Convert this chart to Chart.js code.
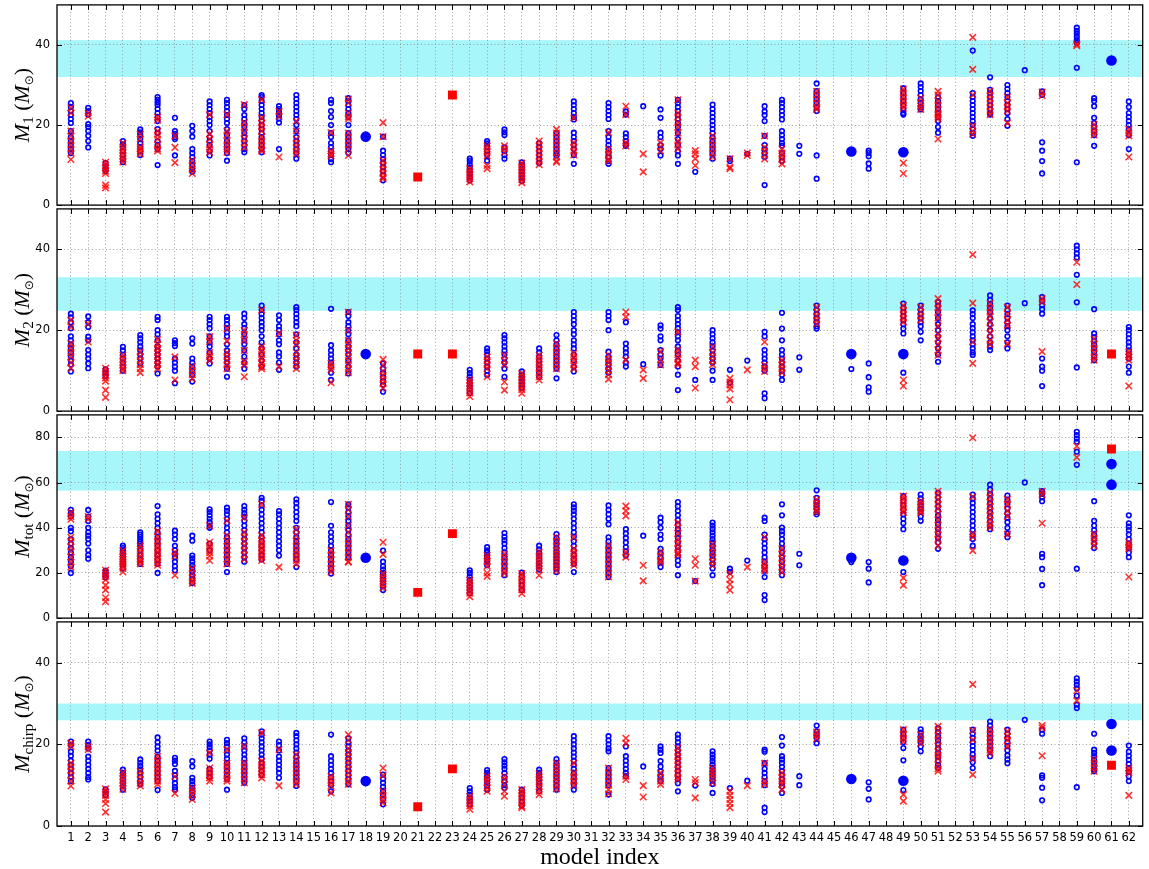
<!DOCTYPE html>
<html>
<head>
<meta charset="utf-8">
<script src="https://cdn.jsdelivr.net/npm/chart.js@4.4.1/dist/chart.umd.min.js"></script>
<style>
  body { margin: 0; background: #fff; width: 1149px; height: 869px; position: relative; overflow: hidden; }
  canvas { position: absolute; left: 0; }
</style>
</head>
<body>
<script>
// model index 1..62 (x ticks)
const modelIndex = Array.from({ length: 62 }, (_, i) => i + 1);

// ---- panel 1 : M1 ----
const m1Blue = [
  [25.5,24.5,23.5,22.5,21.5,20.5,18.5,17,16,15,14,13],[24.3,23.5,22.6,20.2,19.5,18.5,17.3,16,14.4],[10.5,9.8,9,8.5],
  [16,15.2,14.5,13.5,12.5,11.5,10.7],[18.9,18.2,17.5,16.5,15.5,14.5,13.5,12.5],[27,26.3,25.6,25,24,23,22,21,19,18,16,15,14,10],
  [21.8,18.5,17.8,17,16.5,12.4],[19.8,18.5,17.1,14,13,12,11,10,9,8.3],[25.9,25,24,23,22,21,20,18.5,17,16,15,13.5,12.4],
  [26.3,25.5,24.5,23.5,22.5,21.5,20.5,19,17.5,16,15,14,13,11.1],[25,24,22.5,21.5,20.5,19.5,18,17,16,15,14,13.2],
  [27.5,27,26,25,24,23,22,21,20,19,18,17,16,15,14,13.2],[24.7,24,23.2,22.4,21.6,20.6,14],
  [27.5,26.5,25.5,24.5,23.5,22.5,21.5,20,18.5,17,16,15,14,13,11.6],[],
  [26.3,25.5,23.5,22,20,18,17,15.5,14.5,13.5,12.5,11.5,10.7],[26.7,26,25,24,23,22,20,18,17,16,15,14,13],[],
  [17.1,13.6,12.5,11.5,10.5,9.5,8.5,7.5,6.2],[],[],[],[],
  [11.6,11,10.2,9.4,8.6,7.8,7,6.2],[16,15.4,14.5,13.5,12.5,11.1],[18.9,18.2,17.5,14.4,13.5,12.5,11.6],[10.7,10,9.2,8.4,7.6,6.8,6],
  [15.5,14.5,13.5,12.5,11.5,10.5],[18,17,16,15,14,13,12.4],[25.9,25,24,23,22,21.4,18.1,17,16,15,14,12.5,10.3],[],
  [25.5,24.5,23.5,22.5,21.5,18.5,17,16,15,14,13,12,11,10.3],[23.4,22.6,17.9,17,16,15.2,14.8],[24.7],[23.9,21.8,18.1,17,15,14,12.4],
  [26.3,25.5,24.5,23.5,22.5,21.5,20.5,19.5,18,16.5,15,13.5,12.4,10.3],[8.3],[25.1,24,23,22,21,20,19,18,17,16,15,14,13,11.6],
  [11.6,11],[12.8],[24.7,23.4,22.5,21,17.3,15,14,13,12,5],
  [26.3,25.5,24.5,23.5,22.5,21.4,18.5,17.5,16.5,15.5,14.8,13,12,11],[14.8,12.8],[30.4,28.5,27.5,26.5,25.5,24.5,23.5,12.4,6.6],[],[],
  [13.6,13,12.2,10.4,9.1],[],[29.2,28,27,26,25,24,23,22.6],[30.4,29.5,28.5,27.5,26.5,25.5,24.5,23.9],[27,26,25,24,23,22,21,19.5,18.1],[],
  [38.6,28,27,26,25,24,23,22,21,20,19,18,17.3],[31.9,28.8,28,27,26,25,24,23,22.6],[30,29,28,27,26,25,24,23,21.5,19.8],[33.7],
  [28.4,27.5,15.7,13.6,11,7.9],[],[44.3,43.5,42.8,42,41.2,40.5,34.3,10.7],[26.7,26,24.7,21.8,20.5,19.5,18.5,17.5,14.8],[],
  [25.9,24.5,23,22,21,20,19,17.5,14]
];
const m1Red = [
  [24.3,23,18.5,17.2,16,15,14,13,11.4],[23,22.2],[10.7,10,9.3,8.5,7.9,5,4.3],[15.5,14.5,13.8,13,12.3,11.5,10.8],
  [17.7,16.5,14.5,14,13.5,12.8],[22,21.2,18.5,17.5,16.5,15,14,13.5],[17.3,14.4,10.6],[11.1,9.9,9,7.9],[22.6,17.7,16.5,15,14,13.2],
  [22.6,18.5,17.5,16,15,14,13.2],[25.1,20.6,19.5,18,16.5,15.5,14.4],[26.3,21.8,20.5,19.5,18.5,17,16,15,14,13.5],[23.4,22.2,12],
  [21,18.5,16.5,15.5,14.5,13.5,12.8],[],[18.1,13.5,12.8,12.3],[26.5,25.5,23,22,21.5,18,17,16,15,14,12.4],[],
  [20.6,17.1,11.1,10,9,8,7,6.6],[],[],[],[],
  [9.1,8.3,7.5,6.6,5.8],[14.8,14,13.2,12.3,9.9,9.1],[14.8,14,13.2],[10.5,9.6,8.8,8,7.2,6.4,5.6],[16,15,14,13,12,11,10.1],
  [18.9,18,17,16,15,14,13,12,11,10.7],[21.8,15.6,14.5,13.5,12.5],[],[18.1,14,13.2,12.5,11.5,11],[24.7,22.6,15.6,14.8],[12.8,8.3],
  [15.6,14.5,13.5],[26.3,23,22,20.6,19.5,18,16,15,14],[13.6,12.8,11.6,9.9],[17.3,16,15,14,13,12],[11.6,9.5,9.1],[13,12.4],
  [17.3,14.4,13.5,12.5,11.5],[14,13,12.2,11.4,10.3],[],[28.4,27.5,26.5,25.5,24.5,23.9],[],[],[],[],
  [29,28,27,26,25,24.2,10.5,7.9],[26.7,25.5,24.7,23.9],[28.4,27.5,26,25,24,23,22.5,22,21.5,16.5],[],
  [41.9,33.9,27.5,19.8,18.5,17.7],[28.5,27.5,26.5,25.5,24.5,23.5,22.6],[27,25.5,24.5,23.5,20.5],[],[28.2,27.3],[],[40.2,39.8],
  [20.2,19.2,18.3,17.5],[],[18.9,18,17.3,12]
];
const m1BigBlue = [[18,17.1],[46,13.4],[49,13.2],[61,36.1]];
const m1Square = [[21,7],[23,27.5]];
const m1Band = [32,41.2];

// ---- panel 2 : M2 ----
const m2Blue = [
  [24.1,23.2,22,20.5,18.5,17.5,16.5,15.5,14.5,13.5,12.5,11.5,9.8],[23.4,22,20.8,18.4,17.5,15.1,14,13,11.8,10.6],[10.3,9.5,8.7],
  [15.9,15,14,13,12,11,10],[18.8,18,17,16,15,14,13,11.8],[23.3,22.5,20,19,17.5,16,15,14,13,12,11,9.3],
  [17.5,16.8,16.1,13,12,11,10,6.9],[18,16.7,13,12,11,10,9,7.3],[23.3,22.5,21.5,20.5,18.5,17,16,14.5,13,11.8],
  [23.3,22.5,21.5,20.5,19.5,18.5,16.5,15,14,13,12,10.5,8.5],[24.1,23,21.5,20.5,19,17.5,16.5,15,13.5,12,10.5],
  [26.1,25,24,23,22,21,20,18.5,17,15.5,14,12.5,11],[23.7,22.5,21,20,19,17.5,16.5,14.5,13.5,12,10.2],
  [25.7,25,24,23,22,21,19,17,15.5,14,13,12,11],[],[25.3,16.3,15,14,13,12,11,9.5,7.7],
  [24.5,23.5,22,21,20,19,17.5,16,15,14,12.5,11,9.3],[],[11.8,10.5,9.5,8.5,7.5,6.5,4.8],[],[],[],[],
  [10.2,9.4,8.6,7.8,7,6.2,5.4,4.5],[15.5,14.8,14,13,12,11,10,8.9],[18.8,18,17,16,15,14,13,12,10.5,8.5],[9.8,9,8.2,7.4,6.6,5.8],
  [15.5,14.5,13.5,12.5,11.5,10.5,9.5,8.5],[18.8,17.5,16.5,15.5,14.5,13.5,12.5,11.5,10.5,8.1],
  [24.5,23.5,22.5,21.5,20,19,17.5,16.5,15.5,14,12.5,11,9.8],[],[24.5,23.5,22.5,20,14.7,13.5,12.5,11.5,10.5,9.5],
  [22,16.7,15.5,14.5,13.5,12,11],[11.6],[21.2,20.4,18.5,17.5,15.1,14,13,11.4],
  [25.7,25,23.5,22.5,21.5,20.5,19.5,18.5,17.5,16,15,14,12.5,11,9,5.2],[7.7],[20,19,18,17,16,15,14,13,12,10,7.7],[10.2,7],[12.5],
  [19.6,18.5,15.1,14,13,12,11,10,4.4,3.2],[24.3,20.4,17.5,15.1,14,13,12,11,10,9,7.7],[13.3,10.2],[26.1,25,24,23,22,21,20.4],[],
  [10.4],[11.8,8.4,5.9,4.8],[],[26.6,25.5,24.5,23.5,22.5,21.5,20.4,19.2,9.5],[26.1,25,24,23,22,21,19.6,17.5],
  [27,26,24.5,23,21.5,20,18.5,17,15.5,14,12.2],[],[24.9,24,23,21.5,20.5,19.5,18.5,17.5,16.5,15.5,14.5,13.9],
  [28.6,27.5,26.5,25.5,24.5,23,21.5,20,18.5,17,16,15.1],[26.1,25,24,23,22,21,20,18.5,17,15.5],[26.7],
  [28.2,27.2,26.2,25.2,24.1,13,11,10,6.2],[],[40.9,40,39,38,33.7,26.9,10.8],[25.2,19.2,18.3,17.4,16.5,15.6,14.7,13.5,12.6],[],
  [20.8,20,19,18,17,16,15,14,13,11,9.5]
];
const m2Red = [
  [22.5,20.8,16.7,15.5,14.5,13.5,12,10.6],[21.6,17.1],[10.6,9.8,9,8.2,7.4,5.2,3.4],[13.8,13,12.2,11.4,10.6,10],
  [14.7,13.5,12.5,11.5,10.5,9.5],[17.7,16.5,15.5,14.5,13.5,12.5,11.5,10.5],[13.4,7.7],[11,10,9,8],[18.4,17.2,14.5,13.5,12.6],
  [20.4,17.3,14.5,13.5,12.5,11.5,10.5],[20,19,17.5,15,12.3,11.5,8.5],[25,15.9,15,14,13,12,11,10.5],[19.2,11],
  [18.8,17.5,16.5,14.5,13.5,12.5,11.5,10.5],[],[11.8,11,10.2,7],[24.5,20,17.5,16.5,15.5,14.5,13.5,12.5,11.5,10.5,9.5],[],
  [12.8,11.4,9.8,8.8,7.8,6.8,5.7],[],[],[],[],
  [7.7,7,6.2,5.4,4.5,3.6],[13.4,12.5,11.5,10.5,8.5],[13.8,12.5,11.5,7.2,5.2],[9.3,8.5,7.7,6.9,6.1,5.3,4.4],
  [13.8,13,12.2,11.4,10.5,9.5,8.5,7.7],[16.7,15.5,14.5,13.5,12.5,11.5,10.5],[14.3,13.4,12.5,11.5,10.5],[],
  [13.8,12.8,12,11,10,9,7.9],[24.5,23.3,12.6],[10.2,8.1],[14.7,12.8,11.4],[19.6,15.1,14,13,12,11.5],[12.6,11,5.7],
  [15.9,14.5,13.5,12.5,11.5],[8.1,7.2,6.4,5.5,2.8],[10.2],[17.1,11.4,10.6,9.8],[12.6,11.5,10.5,9.5],[],[25.7,24.5,23.5,22.5,21.6],
  [],[],[],[],[26.1,25,24,23,22,7.7,6.2],[25.7,24.5,23.5,22.5],[27.8,26.5,25.5,24.5,23,21,19,18,16.5,15,13.8],[],
  [38.7,26.7,17.1,11.8],[26.6,25.5,24.5,23.5,22,20.5,19.2,17.5,16.5],[25.7,24,22.5,21.2,16.7],[],[27.8,27,14.7],[],[36.8,31.3],
  [17.9,16.5,15.5,14.5,13.4,12.6],[],[14.7,14,13.4,12.6,6.2]
];
const m2BigBlue = [[18,14.1],[46,14.1],[49,14.1]];
const m2Square = [[21,14.1],[23,14.1],[61,14.1]];
const m2Band = [24.8,33.1];

// ---- panel 3 : Mtot ----
const m3Blue = [
  [48,46.5,45,40,38.5,35,33,31,29,27,25,23,20],[47.9,45,43,40,38,36.5,35,33,30,28,26.3],[21,20,19,18],
  [32.1,31,30,29,28,27,26,25,24,22],[38,37,36,35,34,33,32,30,28,26,24],[49.6,46,44,42,40,38,36,34,32,30,28,26,24,20],
  [38.7,37,35,32,30,28.5,27,25,23,21.2],[36.5,34.3,27.7,26.5,25,23.5,22,20.5,19,17.5,15.5],[48.2,47,45.5,44,42.5,41,40,33,30],
  [48.9,47.5,46,44,42,40,38,36,34,32,30,28,26,24,20.4],[49.6,48,46.5,45,43,41,39,37,35,33,31,29,27,25],
  [53.3,52,50,48,46,44,42,40,38,36,34,32,30,28,26],[47.4,46,44,42,40,38,36,34,32,30,27.7],
  [52.6,51,49,47,45,43,40,38,36,34,32,30,28,26,22.6],[],[51.4,40.9,38,36,34,32,30,28,26,24,22,19.7],
  [50.4,49,47,45,43,41,39,37,35,33,31,29,27],[],[29.9,25,23,21.5,20,18.5,17,15.5,14,12.4],[],[],[],[],
  [21.2,20,18.5,17,15.5,14,12.5,11],[31.4,30,29,28,27,26,25,23.4],[37.7,36,34.5,33,31,29,27,25,23,21,19],[20.1,18.5,16.5,14.5,12.5],
  [32.1,30.5,29,27.5,26,24.5,23,21.5],[37.2,35.5,34,32.5,31,29.5,28,26.5,25,23.5,22,20.4],
  [50.4,49,47.5,46,44,42,40,38,36,34,32,30,28,26,24,20.4],[],[49.9,48,46,44,41.6,35.8,34,32,30,28,26,24,22,20,18.2],
  [39.4,37.5,35.5,33.5,31.5,29.5,27.7],[36.5],[44.5,42.5,40,37,35,30.7,29,27,25,22.6],
  [51.4,49.5,47.5,45.5,43.5,41.5,39.5,37.5,35.5,33.5,31.5,29.5,27.5,25.5,23.5,19],[16.4],
  [42.3,41,39.5,38,36.5,35,33.5,32,30.5,29,27.5,26,24,22,19],[21.9,20.5],[25.5],[44.5,43,37,35,33,31,29,27,25,23,21,18.2,10.2,8],
  [50.4,45.5,40.1,38.5,37,35,33,31,29,27,25,23,21,19],[28.5,23.4],[56.6,53.3,51.5,50,48.5,47,46],[],[24.8],[24.8,21.9,15.8],[],
  [54,52,50,48,46,44,42,39.4,20.4],[54.7,53,51.5,50,48.5,47,45,43.1],[55.5,53.5,51.5,49.5,47.5,45.5,43.5,41.5,39.5,37.5,35.5,33.5,30.7],[],
  [54.7,53,51,49,47,45,43,41,39,37,35,32.1],[59.1,57,55,53,51,49,47,45,43,41,39.4],[54.3,52.5,50.5,48.5,46.5,44.5,42.5,40,37.5,35.8],
  [60.1],[56.2,55,53.5,51.8,28.5,27,21.8,14.6],[],[82.5,81,79.5,78.1,73.7,67.9,21.9],[51.8,43.1,41,39,37,35,33,31],[],
  [45.5,42,40.5,39,37,35,33,31,29,27]
];
const m3Red = [
  [46.7,45,43.8,35.8,34,31.5,29.5,27,24.8,22.6],[45,43.8],[21.2,20,18.5,17,14.5,12.5,9,7.3],[29.9,28.5,27,26,25,24,23,22,20.4],
  [32,30.5,29,27.5,26,25,24],[38.5,36,34,32,30.5,29,27.5,26,24.5,23.4],[29.2,27.5,19],[21.9,20,18,16.5,15.4],
  [40.9,33.6,32,30.5,29,27.5,25.5],[43.1,36.5,34,32,30,28,26,24],[44.5,38,36,34,32,30,28,26],[50.4,36.5,34.5,33,31.5,30,28.5,27,25.5],
  [22.6],[39.4,36.5,34,32,30,28.5,27,25.5,24],[],[29.9,28,26,24,22,20.4],[50.4,48,45,41,38,35,33,31,29,27,25,24.8],[],
  [33.6,28.2,19.7,18,16.5,15,13.5],[],[],[],[],
  [16.8,15.5,14,12.5,11,9.5],[27.7,26.5,25,23,20,18.5],[28.5,27,25,23,21,19.7],[19.7,18.5,17,15.5,14,12.5,10.9],
  [29.2,27.5,26,24.5,23,21.5,19],[35.8,34,32,30,28.5,27,25.5,24,22.5,21],[35.8,30.7,29,27.5,26,24.5,23.4],[],
  [32.1,30,28,26,24,22,20,18.2],[49.6,47.5,45.3,29.2,27],[23.4,16.5],[29.2,27.5,25.5,24.8],[42.3,40,37.5,35,33,31,29,28],
  [26.3,23.4,16.4],[32.8,31,29,27,25,23.4],[19.7,17,15,12.4],[22.6],[35.8,24.8,23.4,22,21],[30.7,28.5,26.5,24.5,22.5,20.4],[],
  [52.5,51,49.5,48,47],[],[],[],[],[54,52.5,51,49.5,48,46.7,17.8,14.6],[51.8,50.5,49,47.5,46.7],
  [56.2,54.5,52.5,50.5,48.5,46,43.5,41,39,37,35,32.1],[],[79.9,53.7,37.2,35.8,29.9],[55.5,53.5,51.5,49.5,47.5,45.5,43.5,41.5,40.1],
  [52.6,50.5,47.5,45,37.2],[],[56.2,54.7,42],[],[76.2,71.2],[37.2,35.5,34,32.1],[],[33.6,32.5,31.5,30.7,18.2]
];
const m3BigBlue = [[18,26.7],[46,26.7],[49,25.5],[61,68.2],[61,59.1]];
const m3Square = [[21,11.4],[23,37.4],[61,74.9]];
const m3Band = [56.5,74];

// ---- panel 4 : Mchirp ----
const m4Blue = [
  [20.7,19.8,18.2,17.2,16,15,14,13,12,11],[20.7,19.8,19,17,16,15,14,13,12,11.4],[9,8.3,7.6],[13.8,13,12.2,11.4,10.6,9.8,8.9],
  [16.3,15.5,14.7,13.9,13,12,11,10.2],[21.7,20.5,19.5,18.5,17,16,15,14,13,12,11,8.8],[16.7,16,15.2,13.5,12.5,11.5,10.5,9.5,8.9],
  [15.9,14.6,11.8,11,10.2,9.4,8.6,7.6,6.9],[20.7,20,19.3,18.5,17.5,16.5,14,13,12],
  [21.1,20.3,19.5,18.5,17.5,16.5,15.5,14.5,13.5,12.5,11.5,8.9],[21.5,20.5,19.5,18.5,17.5,16.5,15.5,14.5,13.5,12.5,11.5,10.6],
  [23.2,22.4,21.5,20.5,19.5,18.5,17.5,16.5,15.5,14.5,13.5,12.5],[20.7,19.8,18.5,17,16,15,14,13,11.8],
  [22.8,22,21,20,19,18,17,16,15,14,13,12,11,9.8],[],[22.4,17.1,16,15,14,13,12,11,10,8.5],
  [21.5,20.5,19.5,18.5,17.5,16.5,15.5,14.5,13.5,12.5,11.5,10.2],[],[12.6,11.6,10.6,9.6,8.6,7.6,6.6,5.3],[],[],[],[],
  [9.3,8.5,7.7,6.9,6.1,5.3],[13.7,13,12.2,11.4,10.6,9.8,8.9],[16.4,15.6,14.8,14,13,12,11,10,9.3],[8.9,8,7,6,5],
  [13.8,13,12.2,11.4,10.6,9.8,8.5],[16.4,15.5,14.6,13.7,12.8,11.9,11,10,8.9],[22,21,20,19,18,17,16,15,14,13,12,11,10,8.9],[],
  [22,21,20,19,18.3,14.2,13,12,11,10,7.7],[19.5,17.1,16,15,14,13,12.2],[14.6],[19.5,18.7,17.9,15.9,14.6,13.4,12.2,11],
  [22.4,21.5,20.5,19.5,18.5,17.5,16.5,15.5,14.5,13.5,12.5,11.5,10.5,8.5],[9.9],
  [18.3,17.5,16.7,15.9,15.1,14.3,13.5,12.7,11.9,11.1,10.3,8.1],[9.3],[11.1],[18.7,18.2,15.4,14,13,12,11,10,4.5,3.4],
  [21.8,19.7,17.1,16.3,15.5,14.5,13.5,12.5,11.5,10.5,9.7,8.1],[12.2,10],[24.6,23.2,22.4,21.6,20.3],[],[],[10.7,9.1,6.5],[],
  [23.6,22.6,21.6,20.6,19.1,16.1,8.8],[23.7,22.9,22.1,21.3,20.5,19.5,18.3],[24,23,22,21,20,19,18,17,16,15,14.2],[],
  [23.6,22.6,21.6,20.6,19.6,18.6,17.6,16.6,15.6,14.2],[25.6,24.6,23.6,22.6,21.6,20.6,19.6,18.6,17.1],
  [23.6,22.6,21.6,20.6,19.6,18.5,17.3,16.3,15.4],[26],[23.6,22.6,12.4,11.8,9.4,6.3],[],[36.2,35.4,34.6,33.7,31.9,29.7,28.9,9.5],
  [22.6,18.7,17.9,17.1,16.3,15.5,14.7,13.9,13.4],[],[19.7,18.2,17.2,16.2,15.2,14.2,13.2,12.2,11]
];
const m4Red = [
  [20.3,19.5,15.4,14.5,13.5,12.5,11,9.8],[19.5,18.7],[9.1,8.3,7.5,6.5,5.5,3.4],[13,12.2,11.4,10.6,9.8,9],[13.4,12.5,11.5,10.5,9.8],
  [17.1,16,15,14,13,12,11,10.2],[12.2,8],[9.3,8.5,7.7,6.5],[17.9,14.2,13.4,12.6,11.8,11],[18.7,15.4,14.6,13.6,12.6,11.6,11],
  [19.5,15.4,14.5,13.5,12.5,11.5,10.6],[22.8,15.9,15,14.2,13.4,12.6,11.8],[18.7,9.9],[17.5,16,15,14,13,12,11,10.2],[],
  [12.2,11.4,10.6,9.8,8.1],[22.4,21,19,18,17,16,15,14,13,12,11,10.2],[],[14.2,12.4,8.5,7.5,6.5,5.7],[],[],[],[],
  [7.3,6.5,5.7,4.9,4.1],[12.2,11.4,10.6,9.4,8.5],[12.2,11.4,10.2,8.5,7.3],[8.9,8.1,7.3,6.5,5.7,4.9,4.5],[12.8,12,11.2,10.4,9.6,8.5,7.7],
  [15.4,14.5,13.6,12.7,11.8,10.9,10,9.1],[15.4,13,12,11,10],[],[14.2,13,12,11,10,8.9,7.9],[21.5,20.3,12.2,11.4],[9.9,7.1],
  [13,12,11,10.2],[19.1,18,17,16,15,14,13,12,11.4],[11.4,10.6,6.9],[14.2,13.4,12.6,11.8,10.6],[8.5,7.5,6.5,5.5,4.5],[9.9],
  [15.4,11,10.2],[13,12,11,10.2,8.9],[],[23,22.2,21.4],[],[],[],[],[23.6,22.5,21.5,20.7,7.7,6.1],[22.4,21.2,20.3],
  [24.4,23.4,22.2,21,19.5,18.2,17.3,16.5,15,14,13.4],[],[34.7,23.4,21.1,16.5,12.6],[23.6,22.6,21.6,20.6,19.6,18.6,17.9],
  [23.2,22,21,19.5],[],[24.6,24,17.2],[],[33.2,30.7],[16.3,15.3,14.3,13.4],[],[14.2,13.6,13,7.5]
];
const m4BigBlue = [[18,11],[46,11.5],[49,11.1],[61,25],[61,18.5]];
const m4Square = [[21,4.7],[23,14],[61,14.9]];
const m4Band = [25.9,30];

const BAND = 'rgb(166,246,250)';
const BLUE = '#0000ff';
const RED = 'rgba(255,0,0,0.8)';

function toPoints(cols) {
  const pts = [];
  cols.forEach((vals, i) => vals.forEach(v => pts.push({ x: modelIndex[i], y: v })));
  return pts;
}
function pairs(list) {
  return list.map(p => ({ x: p[0], y: p[1] }));
}

// draws band, frame, inward ticks and the math-style axis labels
const panelDecor = {
  id: 'panelDecor',
  beforeDraw(chart, args, opts) {
    const { ctx, chartArea: a, scales: { y } } = chart;
    const yt = y.getPixelForValue(opts.band[1]);
    const yb = y.getPixelForValue(opts.band[0]);
    ctx.save();
    ctx.fillStyle = BAND;
    ctx.fillRect(a.left, yt, a.right - a.left, yb - yt);
    ctx.restore();
  },
  afterDraw(chart, args, opts) {
    const { ctx, chartArea: a, scales: { x, y } } = chart;
    ctx.save();
    ctx.strokeStyle = '#000';
    ctx.lineWidth = 1;
    ctx.beginPath();
    modelIndex.forEach(m => {
      const px = Math.round(x.getPixelForValue(m)) + 0.5;
      ctx.moveTo(px, a.bottom); ctx.lineTo(px, a.bottom - 5);
      ctx.moveTo(px, a.top); ctx.lineTo(px, a.top + 5);
    });
    opts.yTicks.forEach(v => {
      const py = Math.round(y.getPixelForValue(v)) + 0.5;
      ctx.moveTo(a.left, py); ctx.lineTo(a.left + 5, py);
      ctx.moveTo(a.right, py); ctx.lineTo(a.right - 5, py);
    });
    ctx.stroke();
    ctx.lineWidth = 1.3;
    ctx.strokeRect(a.left, a.top, a.right - a.left, a.bottom - a.top);

    // y label: M_sub (M_sun)
    const parts = [
      { t: 'M', f: 'italic 22px "Liberation Serif"', dy: 0 },
      { t: opts.sub, f: '15px "Liberation Serif"', dy: 4 },
      { t: ' (', f: '22px "Liberation Serif"', dy: 0 },
      { t: 'M', f: 'italic 22px "Liberation Serif"', dy: 0 },
      { t: '\u2299', f: '12px "DejaVu Sans"', dy: 4 },
      { t: ')', f: '22px "Liberation Serif"', dy: 0 }
    ];
    let total = 0;
    parts.forEach(p => { ctx.font = p.f; p.w = ctx.measureText(p.t).width; total += p.w; });
    ctx.translate(22, (a.top + a.bottom) / 2);
    ctx.rotate(-Math.PI / 2);
    ctx.fillStyle = '#000';
    ctx.textBaseline = 'alphabetic';
    let cx = -total / 2;
    parts.forEach(p => { ctx.font = p.f; ctx.fillText(p.t, cx, 7 + p.dy); cx += p.w; });
    ctx.restore();

    if (opts.xTitle) {
      ctx.save();
      ctx.font = '24px "Liberation Serif"';
      ctx.fillStyle = '#000';
      ctx.textAlign = 'center';
      ctx.fillText(opts.xTitle, (a.left + a.right) / 2, a.bottom + 38);
      ctx.restore();
    }
  }
};

const panels = [
  { blue: m1Blue, red: m1Red, big: m1BigBlue, sq: m1Square, band: m1Band, max: 50, ticks: [0, 20, 40], sub: '1', top: 3, bottom: 207 },
  { blue: m2Blue, red: m2Red, big: m2BigBlue, sq: m2Square, band: m2Band, max: 50, ticks: [0, 20, 40], sub: '2', top: 207, bottom: 413 },
  { blue: m3Blue, red: m3Red, big: m3BigBlue, sq: m3Square, band: m3Band, max: 90, ticks: [0, 20, 40, 60, 80], sub: 'tot', top: 413, bottom: 620 },
  { blue: m4Blue, red: m4Red, big: m4BigBlue, sq: m4Square, band: m4Band, max: 50, ticks: [0, 20, 40], sub: 'chirp', top: 620, bottom: 826 }
];

const PAD = 12;
panels.forEach((p, k) => {
  const last = k === panels.length - 1;
  const canvas = document.createElement('canvas');
  const cTop = p.top - PAD;
  const cH = last ? 869 - cTop : (p.bottom - p.top) + 2 * PAD;
  canvas.width = 1149;
  canvas.height = cH;
  canvas.style.top = cTop + 'px';
  canvas.style.width = '1149px';
  canvas.style.height = cH + 'px';
  document.body.appendChild(canvas);

  const gridOpts = { color: '#8a8a8a', lineWidth: 0.8, drawTicks: false };
  const borderOpts = { display: false, dash: [1, 2.5] };

  new Chart(canvas.getContext('2d'), {
    type: 'scatter',
    data: {
      datasets: [
        { data: pairs(p.sq), pointStyle: 'rect', pointRadius: 6.3, pointBackgroundColor: '#ff0000', pointBorderColor: '#ff0000', pointBorderWidth: 0, order: 0 },
        { data: pairs(p.big), pointStyle: 'circle', pointRadius: 5.3, pointBackgroundColor: BLUE, pointBorderColor: BLUE, pointBorderWidth: 0, order: 0 },
        { data: toPoints(p.red), pointStyle: 'crossRot', pointRadius: 4.6, pointBorderColor: RED, pointBorderWidth: 1.6, order: 1 },
        { data: toPoints(p.blue), pointStyle: 'circle', pointRadius: 2.3, pointBackgroundColor: 'rgba(0,0,0,0)', pointBorderColor: BLUE, pointBorderWidth: 1.6, order: 2 }
      ]
    },
    options: {
      responsive: false,
      animation: false,
      events: [],
      layout: { padding: { left: 0, right: 2, top: PAD, bottom: last ? 0 : PAD } },
      plugins: {
        legend: { display: false },
        tooltip: { enabled: false },
        panelDecor: { band: p.band, yTicks: p.ticks, sub: p.sub, xTitle: last ? 'model index' : '' }
      },
      scales: {
        x: {
          type: 'linear', min: 0.2, max: 62.8,
          afterBuildTicks: s => { s.ticks = modelIndex.map(v => ({ value: v })); },
          afterFit: s => { s.height = last ? 43 : 0; },
          ticks: { display: last, autoSkip: false, maxRotation: 0, padding: 5, color: '#000', font: { family: 'DejaVu Sans', size: 11.5 } },
          grid: gridOpts,
          border: borderOpts
        },
        y: {
          min: 0, max: p.max,
          afterBuildTicks: s => { s.ticks = p.ticks.map(v => ({ value: v })); },
          afterFit: s => { s.width = 57; },
          ticks: { padding: 7, color: '#000', font: { family: 'DejaVu Sans', size: 11.5 } },
          grid: gridOpts,
          border: borderOpts
        }
      }
    },
    plugins: [panelDecor]
  });
});
</script>
</body>
</html>
